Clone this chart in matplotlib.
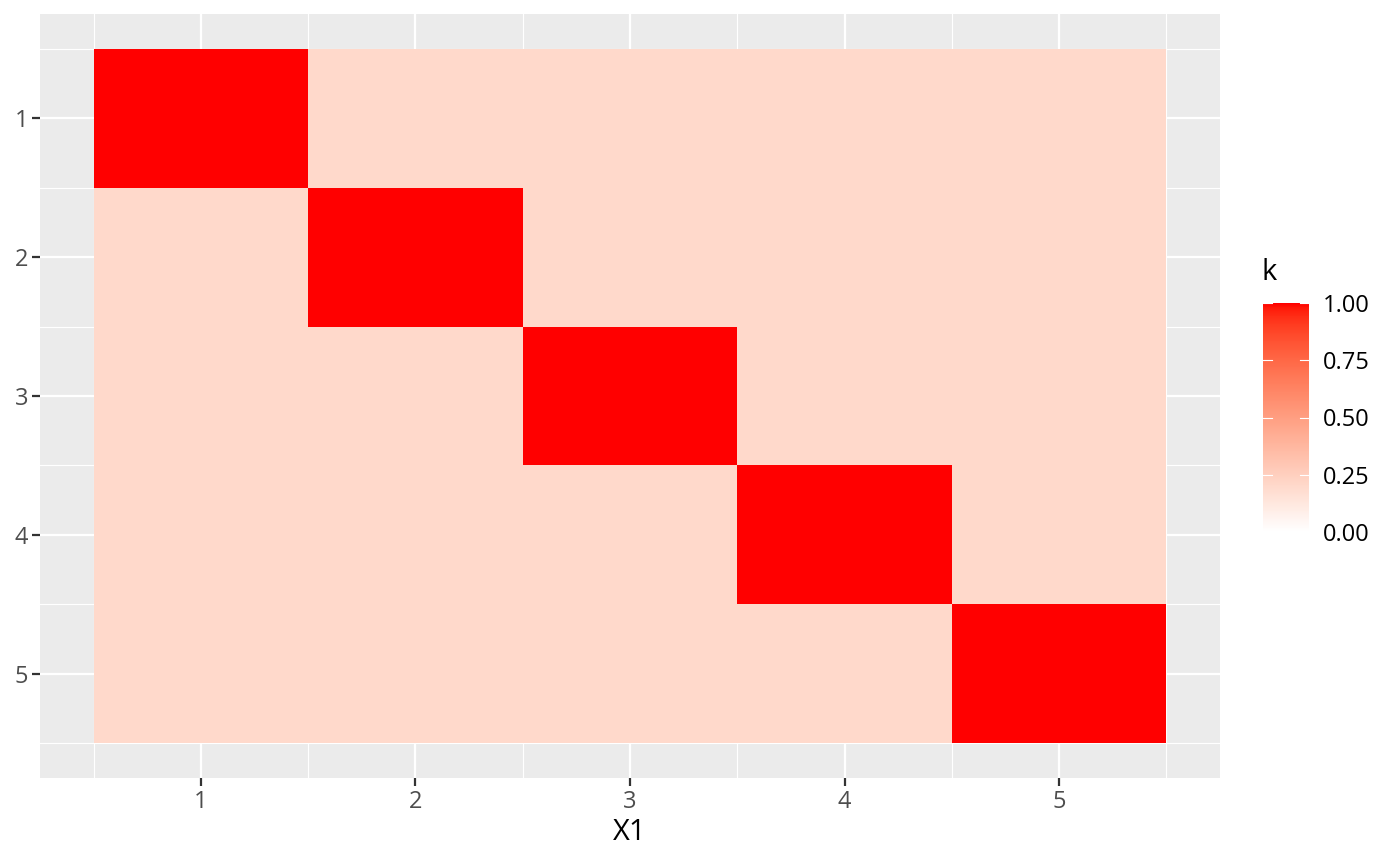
import numpy as np
import matplotlib
matplotlib.use("Agg")
import matplotlib.pyplot as plt
from matplotlib.colors import ListedColormap, Normalize

# ---- data ----
x_labels = ["1", "2", "3", "4", "5"]
y_labels = ["1", "2", "3", "4", "5"]
k_row1 = [1.0, 0.2, 0.2, 0.2, 0.2]
k_row2 = [0.2, 1.0, 0.2, 0.2, 0.2]
k_row3 = [0.2, 0.2, 1.0, 0.2, 0.2]
k_row4 = [0.2, 0.2, 0.2, 1.0, 0.2]
k_row5 = [0.2, 0.2, 0.2, 0.2, 1.0]
legend_ticks = [0.0, 0.25, 0.50, 0.75, 1.00]
legend_tick_labels = ["0.00", "0.25", "0.50", "0.75", "1.00"]

K = np.array([k_row1, k_row2, k_row3, k_row4, k_row5])

# ---- Lab interpolated colormap white -> red (like ggplot scale_fill_gradient) ----
def srgb_to_lab(rgb):
    rgb = np.asarray(rgb, float)
    lin = np.where(rgb <= 0.04045, rgb / 12.92, ((rgb + 0.055) / 1.055) ** 2.4)
    M = np.array([[0.4124, 0.3576, 0.1805],
                  [0.2126, 0.7152, 0.0722],
                  [0.0193, 0.1192, 0.9505]])
    xyz = M @ lin
    xyz = xyz / np.array([0.95047, 1.0, 1.08883])
    f = np.where(xyz > 0.008856, np.cbrt(xyz), 7.787 * xyz + 16 / 116)
    return np.array([116 * f[1] - 16, 500 * (f[0] - f[1]), 200 * (f[1] - f[2])])

def lab_to_srgb(lab):
    L, a, b = lab
    fy = (L + 16) / 116
    fx = fy + a / 500
    fz = fy - b / 200
    f = np.array([fx, fy, fz])
    xyz = np.where(f ** 3 > 0.008856, f ** 3, (f - 16 / 116) / 7.787)
    xyz = xyz * np.array([0.95047, 1.0, 1.08883])
    Minv = np.array([[3.2406, -1.5372, -0.4986],
                     [-0.9689, 1.8758, 0.0415],
                     [0.0557, -0.2040, 1.0570]])
    lin = Minv @ xyz
    lin = np.clip(lin, 0, 1)
    rgb = np.where(lin <= 0.0031308, 12.92 * lin, 1.055 * lin ** (1 / 2.4) - 0.055)
    return np.clip(rgb, 0, 1)

lab_lo = srgb_to_lab([1, 1, 1])
lab_hi = srgb_to_lab([1, 0, 0])
cols = [lab_to_srgb(lab_lo + (lab_hi - lab_lo) * t) for t in np.linspace(0, 1, 256)]
cmap = ListedColormap(cols)
norm = Normalize(0, 1)

# ---- figure ----
plt.rcParams['font.family'] = ['Open Sans', 'DejaVu Sans']
fig = plt.figure(figsize=(14, 8.66), dpi=100)
W, H = 1400, 866
ax = fig.add_axes([40 / W, 1 - 778 / H, (1220 - 40) / W, (778 - 14) / H])
ax.set_facecolor("#EBEBEB")

xs = np.arange(1, len(x_labels) + 1)
ys = np.arange(1, len(y_labels) + 1)
edges_x = np.arange(0.5, len(x_labels) + 1)
edges_y = np.arange(0.5, len(y_labels) + 1)

# grid
for v in xs:
    ax.axvline(v, color="white", lw=1.6, zorder=0.5)
for v in ys:
    ax.axhline(v, color="white", lw=1.6, zorder=0.5)
for v in edges_x:
    ax.axvline(v, color="white", lw=0.8, zorder=0.5)
for v in edges_y:
    ax.axhline(v, color="white", lw=0.8, zorder=0.5)

mesh = ax.pcolormesh(edges_x, edges_y, K, cmap=cmap, norm=norm, zorder=1)

ax.set_xlim(0.25, 5.75)
ax.set_ylim(5.75, 0.25)
for s in ax.spines.values():
    s.set_visible(False)
ax.set_xticks(xs)
ax.set_xticklabels(x_labels)
ax.set_yticks(ys)
ax.set_yticklabels(y_labels)
ax.tick_params(axis="both", length=5.6, width=1.6, color="#333333",
               labelcolor="#4D4D4D", labelsize=17, pad=3)
ax.set_xlabel("X1", fontsize=21, color="black", labelpad=3)

# ---- legend colorbar ----
cax = fig.add_axes([1263 / W, 1 - 532 / H, (1309 - 1263) / W, (532 - 303) / H])
cb = fig.colorbar(mesh, cax=cax)
cb.outline.set_visible(False)
cb.set_ticks(legend_ticks)
cb.set_ticklabels(legend_tick_labels)
cax.tick_params(length=0, labelsize=17, labelcolor="black", pad=10)
for t in legend_ticks:
    cax.axhline(t, xmin=0, xmax=0.2, color="white", lw=0.8)
    cax.axhline(t, xmin=0.8, xmax=1.0, color="white", lw=0.8)
fig.text(1262 / W, 1 - 272 / H, "k", fontsize=21, color="black", ha="left", va="center")

fig.savefig("out.png", dpi=100)
